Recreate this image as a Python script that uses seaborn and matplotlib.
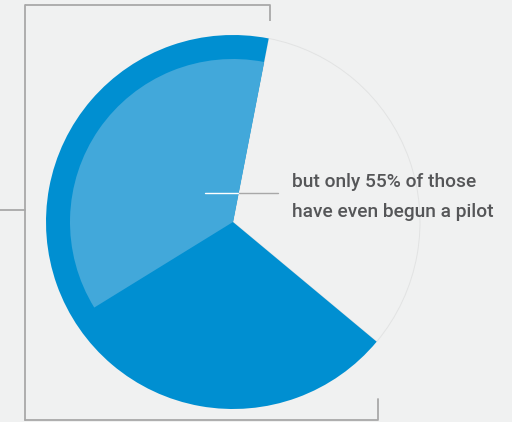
import matplotlib
matplotlib.use("Agg")
import matplotlib.pyplot as plt
import seaborn as sns

# ---- data ----
outer_labels = ["Planning AI", "Not planning"]
outer_values = [67, 33]
inner_labels = ["Begun a pilot", "Not begun"]
inner_share_of_planning = [55, 45]
caption_lines = ["but only 55% of those", "have even begun a pilot"]

BG = "#f0f1f1"
DARK_BLUE = "#008fd1"
LIGHT_BLUE = "#42a8da"
OUTLINE = "#e2e3e3"
BRACKET = "#a8a8a8"
TEXT = "#555658"

sns.set_theme(style="white", rc={"figure.facecolor": BG, "axes.facecolor": BG})
plt.rcParams["font.family"] = ["Roboto", "DejaVu Sans"]

fig = plt.figure(figsize=(5.12, 4.22), dpi=100)
ax = fig.add_axes([0, 0, 1, 1])
H = 422
cx, cy = 233, H - 222
R_out, R_in = 187, 163
start = 79

palette = [DARK_BLUE, BG]
wedges, _ = ax.pie(outer_values, colors=palette, startangle=start, counterclock=True,
                   radius=R_out, center=(cx, cy), wedgeprops=dict(linewidth=0))
wedges[0].set_zorder(3)
wedges[1].set_zorder(2)
wedges[1].set_edgecolor(OUTLINE)
wedges[1].set_linewidth(0.7)

inner_vals = [outer_values[0] * inner_share_of_planning[0] / 100,
              100 - outer_values[0] * inner_share_of_planning[0] / 100]
iw, _ = ax.pie(inner_vals, colors=[LIGHT_BLUE, "none"], startangle=start, counterclock=True,
               radius=R_in, center=(cx, cy), wedgeprops=dict(linewidth=0))
for w in iw:
    w.set_zorder(4)

ax.set_xlim(0, 512)
ax.set_ylim(0, H)
ax.set_aspect("equal")
ax.axis("off")

# brackets
lw = 1.3
ax.plot([24.5, 270, 270], [H - 4.5, H - 4.5, H - 21], color=BRACKET, lw=lw, zorder=1, solid_capstyle="butt")
ax.plot([24.5, 24.5], [H - 4.5, H - 420], color=BRACKET, lw=lw, zorder=1)
ax.plot([24.5, 378, 378], [H - 420, H - 420, H - 399], color=BRACKET, lw=lw, zorder=1)
ax.plot([0, 24.5], [H - 210, H - 210], color=BRACKET, lw=lw, zorder=1)

# annotation leader
ax.plot([205, 239], [H - 193, H - 193], color="white", lw=1, zorder=5)
ax.plot([239, 278], [H - 193, H - 193], color=BRACKET, lw=1, zorder=5)

ax.text(292, H - 187, caption_lines[0], fontsize=13.8, fontweight="medium", color=TEXT,
        va="baseline", ha="left")
ax.text(292, H - 217, caption_lines[1], fontsize=13.8, fontweight="medium", color=TEXT,
        va="baseline", ha="left")

fig.savefig("out.png", dpi=100, facecolor=BG)
